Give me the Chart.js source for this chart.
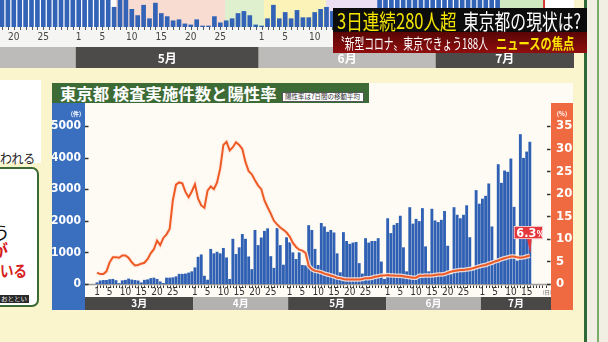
<!DOCTYPE html>
<html lang="ja">
<head>
<meta charset="utf-8">
<title>東京都 検査実施件数と陽性率</title>
<script src="https://cdn.jsdelivr.net/npm/chart.js@4.4.1/dist/chart.umd.min.js"></script>
<style>
  html, body { margin: 0; padding: 0; }
  body {
    width: 608px; height: 342px; overflow: hidden; position: relative;
    background: #fbf5cd; font-family: "Noto Sans CJK JP", sans-serif;
  }
  .box { position: absolute; }
  .fit { position: absolute; display: inline-block; white-space: nowrap; transform-origin: 0 50%; }
</style>
</head>
<body>

<!-- 上に見えている前のグラフ（一部） -->
<canvas id="upper" class="box" width="574" height="68" style="left:0;top:0"></canvas>

<!-- 左のカード（見切れ） -->
<div class="box" style="left:0;top:80px;width:41px;height:83px;background:#fff"></div>
<span class="fit" data-fit="35" style="left:0;top:149px;font-size:13px;line-height:18px;color:#222">われる</span>
<div class="box" style="left:-9px;top:167px;width:44px;height:136px;background:#fff;border:2px solid #3b6a32;border-radius:7px"></div>
<span class="fit" style="left:-8px;top:220px;font-size:18px;line-height:24px;color:#111">う</span>
<span class="fit" style="left:-9px;top:239px;font-size:17px;line-height:22px;color:#d61d1d;font-weight:700">が</span>
<span class="fit" data-fit="27" style="left:0;top:259px;font-size:16px;line-height:22px;color:#d61d1d;font-weight:700">いる</span>
<div class="box" style="left:0;top:295px;width:29px;height:8px;background:#2a2a2a"></div>
<span class="fit" data-fit="26" style="left:1px;top:294px;font-size:6px;line-height:10px;color:#fff">おととい</span>

<!-- メインのパネル -->
<div class="box" style="left:52px;top:83px;width:521px;height:227px;background:#fdfbf4"></div>
<div class="box" style="left:52px;top:83px;width:317px;height:20px;background:#3d6b36"></div>
<span class="fit" data-fit="217" style="left:60px;top:82px;font-size:16px;line-height:22px;font-weight:700;color:#fff">東京都 検査実施件数と陽性率</span>
<div class="box" style="left:282px;top:92px;width:80px;height:8px;background:#fff;border:1px solid #555"></div>
<span class="fit" data-fit="75" style="left:285px;top:91px;font-size:7px;line-height:11px;color:#333">陽性率は7日間の移動平均</span>
<canvas id="main" class="box" width="521" height="207" style="left:52px;top:103px"></canvas>

<!-- 右端の枠 -->
<div class="box" style="left:584px;top:0;width:24px;height:342px;background:#f1efe3"></div>
<div class="box" style="left:584px;top:0;width:3px;height:342px;background:#2f6a36"></div>
<div class="box" style="left:597px;top:0;width:2px;height:342px;background:#79ad6a"></div>

<!-- 番組のテロップ -->
<div class="box" style="left:333px;top:8px;width:254px;height:24px;background:#0c0c0c"></div>
<div class="box" style="left:333px;top:32px;width:254px;height:21px;background:linear-gradient(#5a0505,#8f0e0e)"></div>
<span class="fit" data-fit="120" style="left:337px;top:6px;font-size:21px;line-height:28px;color:#f6e500">3日連続280人超</span>
<span class="fit" data-fit="118" style="left:463px;top:6px;font-size:21px;line-height:28px;color:#fff">東京都の現状は?</span>
<span class="fit" data-fit="153" style="left:335px;top:32px;font-size:15px;line-height:21px;color:#fff">〝新型コロナ〟東京できょう188人</span>
<span class="fit" data-fit="78" style="left:496px;top:32px;font-size:15px;line-height:21px;font-weight:700;color:#ffe400">ニュースの焦点</span>

<script>
// 検査実施件数（日別）3/1〜7/16
const testsMar = [40, 100, 115, 115, 140, 150, 110, 15, 105, 120, 160, 130, 115, 100, 40, 120, 135, 175, 190, 150, 70, 20, 190, 190, 200, 230, 310, 310, 320, 350, 390];
const testsApr = [515, 850, 925, 250, 125, 1100, 960, 1010, 960, 1130, 830, 150, 1420, 940, 1150, 1570, 1420, 860, 460, 1700, 1220, 1460, 1670, 1750, 870, 500, 1760, 1220, 600, 1470];
const testsMay = [1310, 990, 780, 990, 590, 580, 1850, 1700, 1100, 590, 1920, 1810, 1640, 1700, 1620, 960, 360, 1630, 1350, 1260, 1300, 1320, 650, 320, 1440, 1300, 1350, 1350, 1440, 700, 150];
const testsJun = [2070, 1600, 1860, 1920, 2150, 1150, 390, 2420, 1900, 2050, 1980, 2390, 1180, 390, 2370, 2000, 1950, 2020, 2300, 1200, 300, 2420, 2180, 2070, 2180, 2480, 1470, 420, 2960, 2530];
const testsJul = [2690, 2780, 3170, 1810, 760, 3780, 3190, 3580, 3540, 3960, 2430, 730, 4730, 3980, 4180, 4490];

// 陽性率（7日間の移動平均, %）
const rateMar = [2.5, 2.2, 2.2, 2.8, 4.8, 5.9, 5.9, 5.8, 6.3, 6.3, 5.8, 4.8, 4.1, 4.2, 4.5, 4.7, 5.5, 6.8, 7.7, 9.6, 8.6, 10.2, 11.0, 12.2, 18.5, 22.0, 22.5, 22.3, 20.4, 19.2, 20.5];
const rateApr = [22.1, 18.9, 17.4, 16.9, 20.7, 21.6, 21.0, 22.5, 25.6, 30.8, 31.5, 29.6, 30.3, 31.4, 30.8, 29.9, 27.0, 25.0, 24.3, 23.0, 21.8, 21.0, 18.5, 17.0, 15.6, 14.0, 13.2, 12.5, 12.0, 11.4];
const rateMay = [10.5, 9.1, 8.2, 7.6, 7.4, 6.9, 4.0, 3.3, 2.9, 2.8, 2.6, 2.3, 2.1, 1.9, 1.7, 1.4, 1.3, 1.1, 1.0, 1.0, 1.0, 1.0, 1.0, 1.1, 1.3, 1.3, 1.4, 1.6, 1.7, 1.9, 1.9];
const rateJun = [2.0, 1.9, 1.9, 1.8, 1.8, 1.7, 1.6, 1.5, 1.4, 1.4, 1.8, 1.8, 1.9, 1.9, 1.9, 2.0, 2.1, 2.1, 2.2, 2.5, 2.7, 2.9, 3.0, 3.1, 3.1, 3.2, 3.3, 3.5, 3.7, 3.9];
const rateJul = [4.1, 4.2, 4.5, 4.7, 5.0, 5.2, 5.5, 5.7, 5.9, 6.1, 6.1, 5.9, 5.8, 5.9, 6.1, 6.3];

const monthNames = ['3月', '4月', '5月', '6月', '7月'];
const monthDays = [31, 30, 31, 30, 16];
const dayLabels = [1, 5, 10, 15, 20, 25];
const leftTicks = [0, 1000, 2000, 3000, 4000, 5000];
const rightTicks = [0, 5, 10, 15, 20, 25, 30, 35];

// 上の見切れたグラフ（4/18〜7/11、上端で切れている）
const upperApr = [60, 55, 70, 48, 52, 66, 58, 50, 62, 45, 55, 40, 48];
const upperMay = [44, 38, 36, 34, 31, 29, 19, 30, 30, 17, 11, 21, 8, 23, 13, 10, 6, 7, 3, 2, 7, 1, 1, 10, 4, 6, 8, 13, 15, 11, 2];
const upperJun = [1, 8, 21, 8, 14, 8, 16, 9, 9, 14, 17, 19, 15, 12, 16, 14, 13, 16, 12, 10, 30, 32, 35, 31, 34, 38, 33, 36, 40, 45];
const upperJul = [38, 42, 50, 47, 44, 55, 52, 60, 58, 54, 62];
const upperMonthNames = ['4月', '5月', '6月', '7月'];
const upperFirstDay = 18;
const upperPhases = [
    [-0.5, 19.3, '#ffffff'], [19.3, 37.8, '#f8dcd2'], [37.8, 44.4, '#dff0cf'], [44.4, 54.9, '#fbf3b8'],
    [54.9, 64.7, '#ecdff3'], [64.7, 83.7, '#ffffff'], [83.7, 91.7, '#cfe8c0'], [91.7, 99, '#ffffff']
];

const narrow = '"Liberation Sans Narrow", "DejaVu Sans Condensed", Roboto, sans-serif';

// 軸ラベルの端の余白を使わない
const noEdgePadding = s => {
    s.paddingTop = 0;
    s.paddingBottom = 0;
    s.paddingLeft = 0;
    s.paddingRight = 0;
};

document.addEventListener('DOMContentLoaded', () => {
    // テロップなどの文字幅を合わせる
    document.querySelectorAll('.fit[data-fit]').forEach(el => {
        const w = parseFloat(el.dataset.fit);
        el.style.transform = `scaleX(${w / el.offsetWidth})`;
    });

    const tests = [].concat(testsMar, testsApr, testsMay, testsJun, testsJul);
    const rate = [].concat(rateMar, rateApr, rateMay, rateJun, rateJul);

    const monthStart = [];
    let acc = 0;
    monthDays.forEach(n => { monthStart.push(acc); acc += n; });

    const xTicks = [];
    const xTickText = {};
    monthDays.forEach((n, m) => {
        dayLabels.forEach(d => {
            if (d <= n) {
                const v = monthStart[m] + d - 1;
                xTicks.push(v);
                xTickText[v] = String(d);
            }
        });
    });

    const yMax = 5696;
    const y1Max = yMax * 35 / 5000;

    const mainDecor = {
        id: 'mainDecor',
        beforeDraw(chart) {
            const { ctx, chartArea: a, scales: { x } } = chart;
            ctx.save();
            ctx.fillStyle = '#fdfbf4';
            ctx.fillRect(0, 0, chart.width, chart.height);
            ctx.fillStyle = '#3a6fc0';
            ctx.fillRect(0, 0, a.left, chart.height);
            ctx.fillStyle = '#f06a41';
            ctx.fillRect(a.right, 0, chart.width - a.right, chart.height);
            // 月の帯
            const bandTop = chart.height - 13;
            monthNames.forEach((name, m) => {
                const x0 = m === 0 ? a.left : x.getPixelForValue(monthStart[m] - 0.5);
                const x1 = m === monthNames.length - 1 ? a.right : x.getPixelForValue(monthStart[m] + monthDays[m] - 0.5);
                ctx.fillStyle = m % 2 === 0 ? '#4a4747' : '#b4b1b1';
                ctx.fillRect(x0, bandTop, x1 - x0, 13);
                ctx.fillStyle = '#fff';
                ctx.font = 'bold 10px "Noto Sans CJK JP", sans-serif';
                ctx.textAlign = 'center';
                ctx.textBaseline = 'middle';
                ctx.fillText(name, (x0 + x1) / 2, bandTop + 6.5);
            });
            ctx.restore();
        },
        beforeDatasetsDraw(chart) {
            const { ctx, chartArea: a, scales: { x, y, y1 } } = chart;
            const y0 = Math.round(y.getPixelForValue(0)) + 0.5;
            ctx.save();
            ctx.strokeStyle = '#9c9a98';
            ctx.lineWidth = 1.5;
            ctx.beginPath();
            ctx.moveTo(a.left, y0);
            ctx.lineTo(a.right, y0);
            ctx.stroke();
            // 日ごとの目盛り
            ctx.strokeStyle = '#333';
            ctx.lineWidth = 1;
            for (let i = 0; i < x.max - 1; i++) {
                const px = Math.round(x.getPixelForValue(i)) + 0.5;
                ctx.beginPath();
                ctx.moveTo(px, y0 + 1);
                ctx.lineTo(px, y0 + 3.5);
                ctx.stroke();
            }
            ctx.lineWidth = 1.5;
            leftTicks.forEach(v => {
                const py = Math.round(y.getPixelForValue(v)) + 0.5;
                ctx.beginPath();
                ctx.moveTo(a.left, py);
                ctx.lineTo(a.left + 3.5, py);
                ctx.stroke();
            });
            rightTicks.forEach(v => {
                const py = Math.round(y1.getPixelForValue(v)) + 0.5;
                ctx.beginPath();
                ctx.moveTo(a.right - 4, py);
                ctx.lineTo(a.right - 0.5, py);
                ctx.stroke();
            });
            ctx.restore();
        },
        afterDatasetsDraw(chart) {
            const { ctx } = chart;
            const meta = chart.getDatasetMeta(0);
            const pt = meta.data[meta.data.length - 1];
            const px = pt.x, py = pt.y;
            const bx = px - 16, by = py - 29.5, bw = 29, bh = 13;
            ctx.save();
            ctx.fillStyle = '#e5383c';
            ctx.beginPath();
            ctx.moveTo(px - 3, by + bh - 1);
            ctx.lineTo(px + 2, by + bh - 1);
            ctx.lineTo(px + 0.5, py - 2);
            ctx.closePath();
            ctx.fill();
            ctx.fillRect(bx, by, bw, bh);
            ctx.strokeStyle = 'rgba(255,255,255,0.85)';
            ctx.lineWidth = 0.8;
            ctx.strokeRect(bx + 0.4, by + 0.4, bw - 0.8, bh - 0.8);
            ctx.fillStyle = '#fff';
            ctx.textBaseline = 'alphabetic';
            ctx.textAlign = 'left';
            ctx.font = `bold 12.5px ${narrow}`;
            const main = rate[rate.length - 1].toFixed(1);
            ctx.fillText(main, bx + 2.5, by + bh - 2);
            const w = ctx.measureText(main).width;
            ctx.font = `bold 8.5px ${narrow}`;
            ctx.fillText('%', bx + 3 + w, by + bh - 2);
            ctx.restore();
        },
        afterDraw(chart) {
            const { ctx, chartArea: a } = chart;
            ctx.save();
            ctx.textAlign = 'center';
            ctx.textBaseline = 'middle';
            ctx.fillStyle = '#fff';
            ctx.font = 'bold 6px "Noto Sans CJK JP", sans-serif';
            ctx.fillText('(件)', 24, 11);
            ctx.fillText('(%)', a.right + 11, 11);
            ctx.fillStyle = '#555';
            ctx.font = '5px "Noto Sans CJK JP", sans-serif';
            ctx.fillText('(日)', a.right - 4, a.bottom + 8);
            ctx.restore();
        }
    };

    new Chart(document.getElementById('main'), {
        type: 'bar',
        data: {
            datasets: [
                {
                    type: 'line',
                    label: '陽性率',
                    data: rate.map((v, i) => ({ x: i, y: v })),
                    yAxisID: 'y1',
                    borderColor: '#ee5a25',
                    borderWidth: 2,
                    pointRadius: 0,
                    tension: 0,
                    order: 0,
                },
                {
                    type: 'line',
                    label: '',
                    data: rate.map((v, i) => ({ x: i, y: v })),
                    yAxisID: 'y1',
                    borderColor: 'rgba(255,236,226,0.85)',
                    borderWidth: 4.5,
                    pointRadius: 0,
                    tension: 0,
                    order: 1,
                },
                {
                    type: 'bar',
                    label: '検査実施件数',
                    data: tests.map((v, i) => ({ x: i, y: v })),
                    yAxisID: 'y',
                    backgroundColor: '#2f60b3',
                    barThickness: 2.2,
                    order: 2,
                },
            ],
        },
        options: {
            responsive: false,
            animation: false,
            devicePixelRatio: 1,
            layout: { autoPadding: false, padding: { top: 1, left: 0, right: 0, bottom: 0 } },
            plugins: { legend: { display: false }, tooltip: { enabled: false } },
            scales: {
                x: {
                    type: 'linear',
                    min: -3.8,
                    max: 143.7,
                    offset: false,
                    grid: { display: false, drawTicks: false },
                    border: { display: false },
                    afterBuildTicks: s => { s.ticks = xTicks.map(v => ({ value: v })); },
                    afterFit: s => { s.height = 26; noEdgePadding(s); },
                    ticks: {
                        autoSkip: false, maxRotation: 0, minRotation: 0, padding: 2,
                        color: '#333', font: { family: narrow, size: 10 },
                        callback: v => xTickText[v] || '',
                    },
                },
                y: {
                    position: 'left',
                    min: 0,
                    max: yMax,
                    grid: { display: false, drawTicks: false },
                    border: { display: false },
                    afterBuildTicks: s => { s.ticks = leftTicks.map(v => ({ value: v })); },
                    afterFit: s => { s.width = 33; noEdgePadding(s); },
                    ticks: { padding: 4, color: '#fff', font: { family: narrow, size: 12, weight: 'bold' }, callback: v => String(v) },
                },
                y1: {
                    position: 'right',
                    min: 0,
                    max: y1Max,
                    grid: { display: false, drawTicks: false },
                    border: { display: false },
                    afterBuildTicks: s => { s.ticks = rightTicks.map(v => ({ value: v })); },
                    afterFit: s => { s.width = 22; noEdgePadding(s); },
                    ticks: { padding: 5, color: '#fff', font: { family: narrow, size: 13, weight: 'bold' }, callback: v => String(v) },
                },
            },
        },
        plugins: [mainDecor],
    });

    // 上のグラフ
    const upper = [].concat(upperApr, upperMay, upperJun, upperJul);
    const upperLens = [upperApr.length, upperMay.length, upperJun.length, upperJul.length];
    const upperStart = [];
    acc = 0;
    upperLens.forEach(n => { upperStart.push(acc); acc += n; });
    const upperTicks = [];
    const upperTickText = {};
    upperLens.forEach((n, m) => {
        const first = m === 0 ? upperFirstDay : 1;
        dayLabels.forEach(d => {
            if (d >= first && d - first < n) {
                const v = upperStart[m] + d - first;
                upperTicks.push(v);
                upperTickText[v] = String(d);
            }
        });
    });

    const upperDecor = {
        id: 'upperDecor',
        beforeDraw(chart) {
            const { ctx, chartArea: a, scales: { x } } = chart;
            ctx.save();
            upperPhases.forEach(([from, to, color]) => {
                const x0 = Math.max(a.left, x.getPixelForValue(from));
                const x1 = Math.min(a.right, x.getPixelForValue(to));
                ctx.fillStyle = color;
                ctx.fillRect(x0, a.top, x1 - x0, a.bottom - a.top);
            });
            ctx.fillStyle = '#d83a3a';
            ctx.fillRect(x.getPixelForValue(91.7), a.top, 2, a.bottom - a.top);
            ctx.fillStyle = '#f5f5f3';
            ctx.fillRect(0, a.bottom, chart.width, 20);
            const bandTop = a.bottom + 20;
            const bandH = chart.height - bandTop;
            upperMonthNames.forEach((name, m) => {
                const x0 = m === 0 ? a.left : x.getPixelForValue(upperStart[m] - 0.5);
                const x1 = m === upperMonthNames.length - 1 ? a.right : x.getPixelForValue(upperStart[m] + upperLens[m] - 0.5);
                ctx.fillStyle = m % 2 === 0 ? '#bdbaba' : '#4d4a4a';
                ctx.fillRect(x0, bandTop, x1 - x0, bandH);
                // 4月は見出しが画面外
                if (m > 0) {
                    ctx.fillStyle = '#fff';
                    ctx.font = 'bold 12px "Noto Sans CJK JP", sans-serif';
                    ctx.textAlign = 'center';
                    ctx.textBaseline = 'middle';
                    ctx.fillText(name, (x0 + x1) / 2, bandTop + bandH / 2 + 1);
                }
            });
            ctx.restore();
        },
        afterDatasetsDraw(chart) {
            const { ctx, chartArea: a, scales: { x } } = chart;
            ctx.save();
            ctx.strokeStyle = '#555';
            ctx.lineWidth = 1;
            for (let i = 0; i < x.max; i++) {
                const px = Math.round(x.getPixelForValue(i)) + 0.5;
                ctx.beginPath();
                ctx.moveTo(px, a.bottom);
                ctx.lineTo(px, a.bottom + 3);
                ctx.stroke();
            }
            ctx.restore();
        }
    };

    new Chart(document.getElementById('upper'), {
        type: 'bar',
        data: {
            datasets: [{
                data: upper.map((v, i) => ({ x: i, y: v })),
                backgroundColor: '#3263b6',
                barThickness: 4,
            }],
        },
        options: {
            responsive: false,
            animation: false,
            devicePixelRatio: 1,
            layout: { autoPadding: false, padding: 0 },
            plugins: { legend: { display: false }, tooltip: { enabled: false } },
            scales: {
                x: {
                    type: 'linear',
                    min: -0.34,
                    max: 96.95,
                    offset: false,
                    grid: { display: false, drawTicks: false },
                    border: { display: false },
                    afterBuildTicks: s => { s.ticks = upperTicks.map(v => ({ value: v })); },
                    afterFit: s => { s.height = 41; noEdgePadding(s); },
                    ticks: {
                        autoSkip: false, maxRotation: 0, minRotation: 0, padding: 4,
                        color: '#444', font: { family: narrow, size: 10 },
                        callback: v => upperTickText[v] || '',
                    },
                },
                y: { display: false, min: 0, max: 26 },
            },
        },
        plugins: [upperDecor],
    });
});
</script>
</body>
</html>
